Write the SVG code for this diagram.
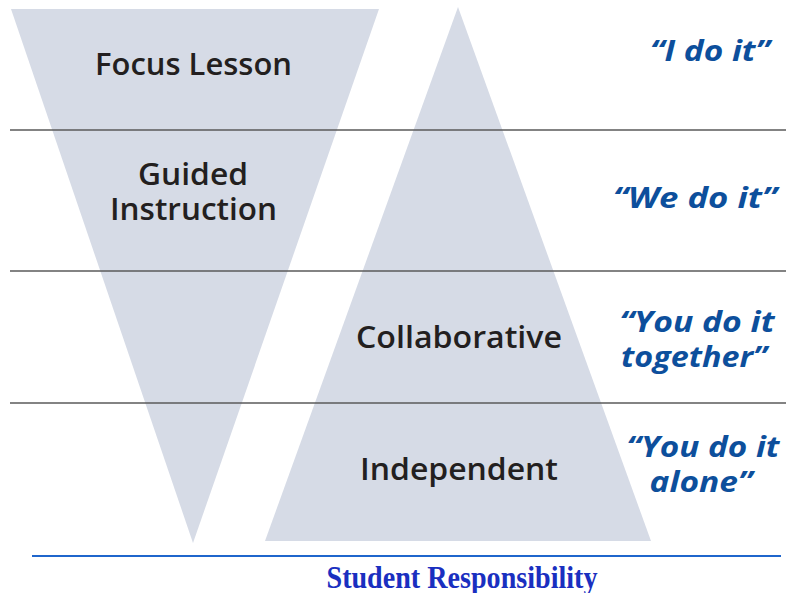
<svg xmlns="http://www.w3.org/2000/svg" width="786" height="593" viewBox="0 0 786 593">
<style>
.tri{fill:#d6dbe6}
.rule{stroke:#5a5a5a;stroke-width:1.6}
.lbl{font-family:"Open Sans","Noto Sans","Liberation Sans",sans-serif;font-weight:600;font-size:30px;fill:#231f20;text-anchor:middle}
.say{font-family:"Open Sans","Noto Sans","Liberation Sans",sans-serif;font-weight:700;font-style:italic;font-size:29px;fill:#0d4f9c;text-anchor:middle}
.foot{font-family:"Liberation Serif",serif;font-weight:700;font-size:31px;fill:#1a2fc0;text-anchor:middle}
</style>
<rect width="786" height="593" fill="#ffffff"/>
<g id="teacher-triangle"><polygon class="tri" points="11,9 379,9 193,543"/></g>
<g id="student-triangle"><polygon class="tri" points="458,7 651,541 265,541"/></g>
<g id="connectors">
<line class="rule" x1="10" y1="130" x2="786" y2="130"/>
<line class="rule" x1="10" y1="271" x2="786" y2="271"/>
<line class="rule" x1="10" y1="403" x2="786" y2="403"/>
<line x1="32" y1="556" x2="781" y2="556" stroke="#1f66cc" stroke-width="2"/>
</g>
<g id="focus"><text class="lbl" x="193.5" y="75" textLength="197" lengthAdjust="spacingAndGlyphs">Focus Lesson</text></g>
<g id="guided"><text class="lbl" x="193" y="185" textLength="110" lengthAdjust="spacingAndGlyphs">Guided</text><text class="lbl" x="193.5" y="220" textLength="167" lengthAdjust="spacingAndGlyphs">Instruction</text></g>
<g id="collab"><text class="lbl" x="459" y="348" textLength="206" lengthAdjust="spacingAndGlyphs">Collaborative</text></g>
<g id="indep"><text class="lbl" x="459" y="480" textLength="198" lengthAdjust="spacingAndGlyphs">Independent</text></g>
<g id="i-do"><text class="say" x="710" y="61" textLength="120" lengthAdjust="spacingAndGlyphs">“I do it”</text></g>
<g id="we-do"><text class="say" x="695" y="208" textLength="164" lengthAdjust="spacingAndGlyphs">“We do it”</text></g>
<g id="you-together"><text class="say" x="697" y="332" textLength="155" lengthAdjust="spacingAndGlyphs">“You do it</text><text class="say" x="694" y="367" textLength="146" lengthAdjust="spacingAndGlyphs">together”</text></g>
<g id="you-alone"><text class="say" x="703" y="457" textLength="153" lengthAdjust="spacingAndGlyphs">“You do it</text><text class="say" x="701" y="492" textLength="103" lengthAdjust="spacingAndGlyphs">alone”</text></g>
<g id="footer"><text class="foot" x="462" y="588" textLength="271" lengthAdjust="spacingAndGlyphs">Student Responsibility</text></g>
</svg>
